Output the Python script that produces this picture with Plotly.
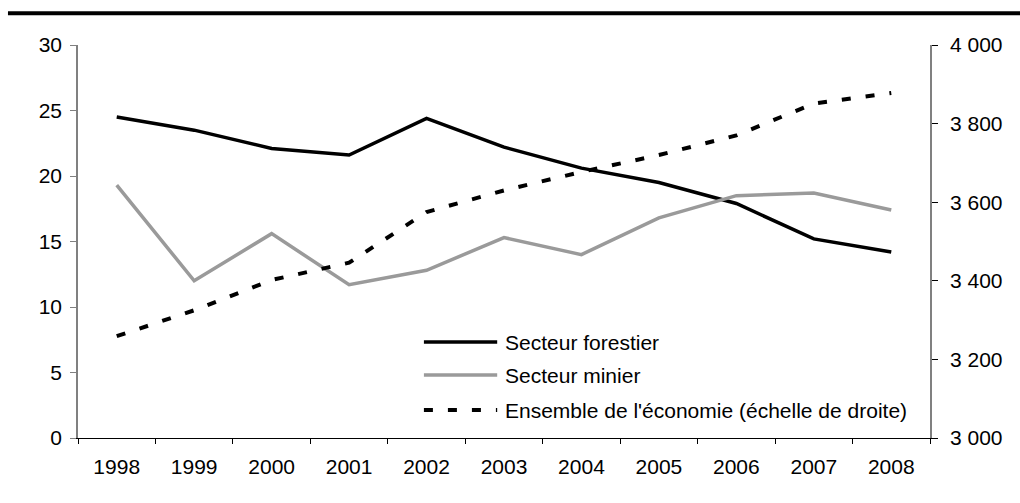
import plotly.graph_objects as go

# Years on the horizontal axis
annees = ["1998", "1999", "2000", "2001", "2002", "2003",
          "2004", "2005", "2006", "2007", "2008"]

# Left scale
secteur_forestier = [24.5, 23.5, 22.1, 21.6, 24.4, 22.2, 20.6, 19.5, 17.9, 15.2, 14.2]
secteur_minier = [19.3, 12.0, 15.6, 11.7, 12.8, 15.3, 14.0, 16.8, 18.5, 18.7, 17.4]

# Right scale
ensemble_economie = [3259, 3325, 3402, 3446, 3575, 3630, 3677, 3720, 3770, 3851, 3878]

noms = ["Secteur forestier", "Secteur minier",
        "Ensemble de l'économie (échelle de droite)"]

FONT = "Liberation Sans, Arial, sans-serif"
FS = 21
NOIR = "#000000"
GRIS = "#9a9a9a"
AXE = "#808080"

fig = go.Figure()

fig.add_trace(go.Scatter(x=annees, y=secteur_forestier, mode="lines", name=noms[0],
                         line=dict(color=NOIR, width=3.5), yaxis="y"))
fig.add_trace(go.Scatter(x=annees, y=secteur_minier, mode="lines", name=noms[1],
                         line=dict(color=GRIS, width=3.5), yaxis="y"))
fig.add_trace(go.Scatter(x=annees, y=ensemble_economie, mode="lines", name=noms[2],
                         line=dict(color=NOIR, width=4, dash="9px,15px"), yaxis="y2"))

# Hand-built legend (long line samples)
leg_x0, leg_x1, leg_tx = 0.406, 0.492, 0.499
leg_rows = [0.244, 0.160, 0.071]
styles = [dict(color=NOIR, width=3.5), dict(color=GRIS, width=3.5),
          dict(color=NOIR, width=4, dash="9px,15px")]
shapes = []
annotations = []
for nom, yy, st in zip(noms, leg_rows, styles):
    shapes.append(dict(type="line", xref="paper", yref="paper",
                       x0=leg_x0, x1=leg_x1, y0=yy, y1=yy, line=st))
    annotations.append(dict(xref="paper", yref="paper", x=leg_tx, y=yy,
                            xanchor="left", yanchor="middle", showarrow=False,
                            text=nom, font=dict(family=FONT, size=FS, color=NOIR)))

# Heavy rule across the top of the figure
shapes.append(dict(type="line", xref="paper", yref="paper",
                   x0=-0.0822, x1=1.11, y0=1.0806, y1=1.0806,
                   line=dict(color=NOIR, width=4)))

fig.update_layout(
    width=1020, height=503,
    margin=dict(l=78, r=90, t=45, b=65),
    paper_bgcolor="white", plot_bgcolor="white",
    font=dict(family=FONT, size=FS, color=NOIR),
    separators=", ",
    showlegend=False,
    shapes=shapes,
    annotations=annotations,
    xaxis=dict(type="category", range=[-0.5, 10.5], showgrid=False, showline=True,
               linecolor=NOIR, linewidth=1, ticks="outside", tickson="boundaries",
               ticklen=5, tickcolor=NOIR, tickfont=dict(size=FS), zeroline=False,
               ticklabelstandoff=10),
    yaxis=dict(range=[0, 30], dtick=5, showgrid=False, showline=True,
               linecolor=AXE, linewidth=1.5, ticks="outside", ticklen=6,
               tickcolor=AXE, zeroline=False, tickfont=dict(size=FS),
               ticklabelstandoff=4),
    yaxis2=dict(range=[3000, 4000], dtick=200, tickformat=",", overlaying="y",
                side="right", showgrid=False, showline=True, linecolor=AXE,
                linewidth=1.5, ticks="outside", ticklen=6, tickcolor=NOIR,
                zeroline=False, tickfont=dict(size=FS), ticklabelstandoff=8),
    yaxis3=dict(range=[3000, 4000], dtick=200, overlaying="y", side="right",
                showgrid=False, showline=False, ticks="inside", ticklen=6,
                tickcolor=NOIR, showticklabels=False, zeroline=False),
)

fig.write_html("out.html")
